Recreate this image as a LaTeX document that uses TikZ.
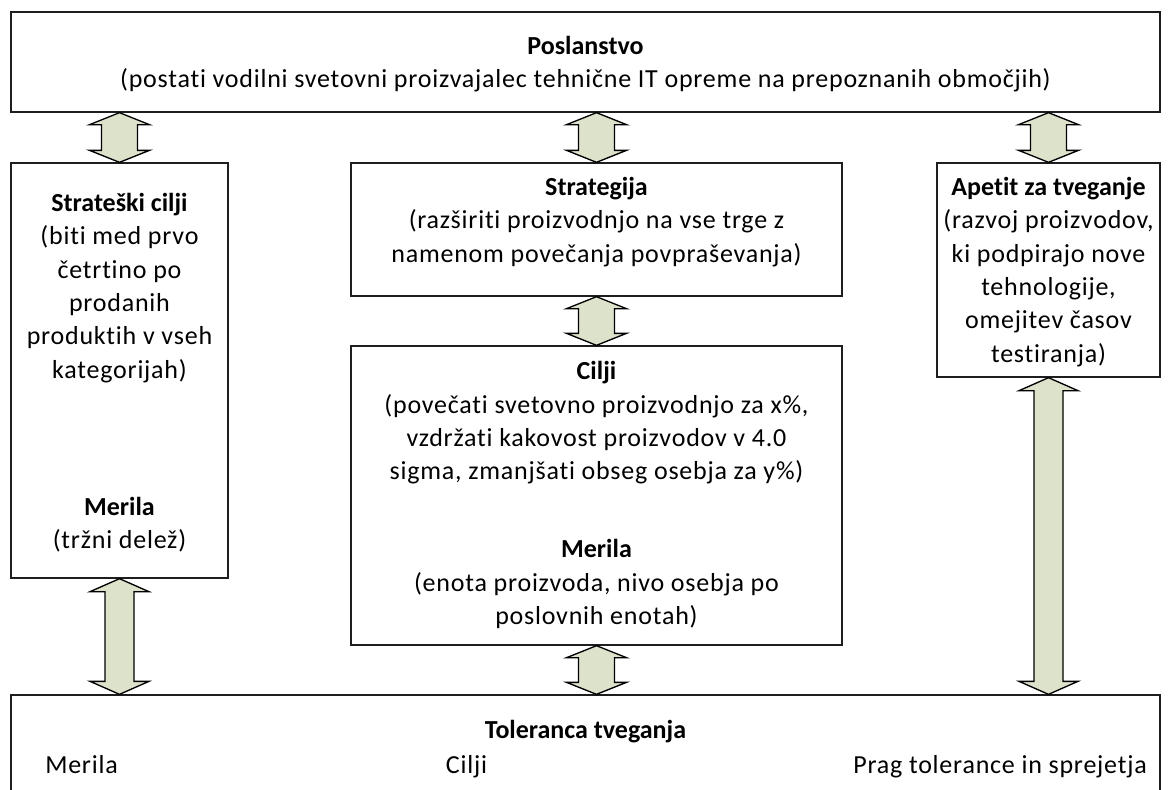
\documentclass[tikz,border=0pt]{standalone}
\usepackage{fontspec}
\setmainfont{Carlito}[Ligatures=NoCommon,LetterSpace=3,BoldFeatures={LetterSpace=0}]
\usetikzlibrary{calc}

\definecolor{arrowgreen}{RGB}{221,226,203}
\definecolor{framegray}{RGB}{30,30,30}

% double-headed block arrow between two points (tip to tip)
% #1 upper tip, #2 lower tip, #3 shaft half width, #4 head half width, #5 head length
\newcommand\blockarrow[5]{%
  \pgfmathsetmacro\bstep{#4-#3}%
  \draw[arrowbody] (#1) -- ++(#4,#5) -- ++(-\bstep,0)
    -- ($(#2)+(#3,-#5)$) -- ++(\bstep,0) -- (#2) -- ++(-#4,-#5)
    -- ++(\bstep,0) -- ($(#1)+(-#3,#5)$) -- ++(-\bstep,0) -- cycle;%
}

\begin{document}
\begin{tikzpicture}[x=0.75pt,y=-0.75pt,
  box/.style={draw=framegray,line width=1pt,fill=white,inner sep=0pt,rectangle},
  label/.style={align=center,inner sep=0pt,font=\fontsize{19.5}{25}\selectfont},
  plain/.style={inner sep=0pt,font=\fontsize{19.5}{25}\selectfont},
  arrowbody/.style={draw=black,line width=1pt,fill=arrowgreen,line join=miter}]
\useasboundingbox (0,0) rectangle (1169,789);
\clip (0,0) rectangle (1169,789);

% frames
\node[box,minimum width=861.75pt,minimum height=75pt] (mission) at (585.5,62) {};
\node[box,minimum width=162.75pt,minimum height=311.25pt] (stratgoals) at (119.5,370.5) {};
\node[box,minimum width=368.25pt,minimum height=99.75pt] (strategy) at (596.5,229.5) {};
\node[box,minimum width=368.25pt,minimum height=224.25pt] (goals) at (596.5,495.5) {};
\node[box,minimum width=167.25pt,minimum height=160.5pt] (appetite) at (1048.5,270) {};
\node[box,minimum width=861.75pt,minimum height=78.75pt] (tolerance) at (585.5,747.5) {};

% texts
\node[label] (missiontxt) at (585.5,64) {\textbf{Poslanstvo}\\(postati vodilni svetovni proizvajalec tehnične IT opreme na prepoznanih območjih)};
\node[label] (sgtxt) at (119.5,288) {\textbf{Strateški cilji}\\(biti med prvo\\četrtino po\\prodanih\\produktih v vseh\\kategorijah)};
\node[label] (sgmeas) at (119.5,525) {\textbf{Merila}\\(tržni delež)};
\node[label] (strattxt) at (596.5,222) {\textbf{Strategija}\\(razširiti proizvodnjo na vse trge z\\namenom povečanja povpraševanja)};
\node[label] (goalstxt) at (596.5,423) {\textbf{Cilji}\\(povečati svetovno proizvodnjo za x\%,\\vzdržati kakovost proizvodov v 4.0\\sigma, zmanjšati obseg osebja za y\%)};
\node[label] (goalsmeas) at (596.5,584) {\textbf{Merila}\\(enota proizvoda, nivo osebja po\\poslovnih enotah)};
\node[label] (apptxt) at (1048.5,272) {\textbf{Apetit za tveganje}\\(razvoj proizvodov,\\ki podpirajo nove\\tehnologije,\\omejitev časov\\testiranja)};
\node[label] (toltitle) at (585.5,732) {\textbf{Toleranca tveganja}};
\node[plain,anchor=base west] (tolmeas) at (45,773) {Merila};
\node[plain,anchor=base] (tolgoals) at (466.5,773) {Cilji};
\node[plain,anchor=base east] (tolthresh) at (1147,773) {Prag tolerance in sprejetja};

% arrow axes
\coordinate (axL) at (119.5,0);
\coordinate (axM) at (596.5,0);
\coordinate (axR) at (1048.5,0);

% connectors
\blockarrow{mission.south -| axL}{stratgoals.north -| axL}{18}{30}{12}
\blockarrow{mission.south -| axM}{strategy.north -| axM}{18}{30}{12}
\blockarrow{mission.south -| axR}{appetite.north -| axR}{18}{30}{12}
\blockarrow{strategy.south -| axM}{goals.north -| axM}{18}{30}{12}
\blockarrow{goals.south -| axM}{tolerance.north -| axM}{18}{30}{12}
\blockarrow{stratgoals.south -| axL}{tolerance.north -| axL}{14.5}{29.5}{13}
\blockarrow{appetite.south -| axR}{tolerance.north -| axR}{14.5}{29.5}{13}
\end{tikzpicture}
\end{document}
